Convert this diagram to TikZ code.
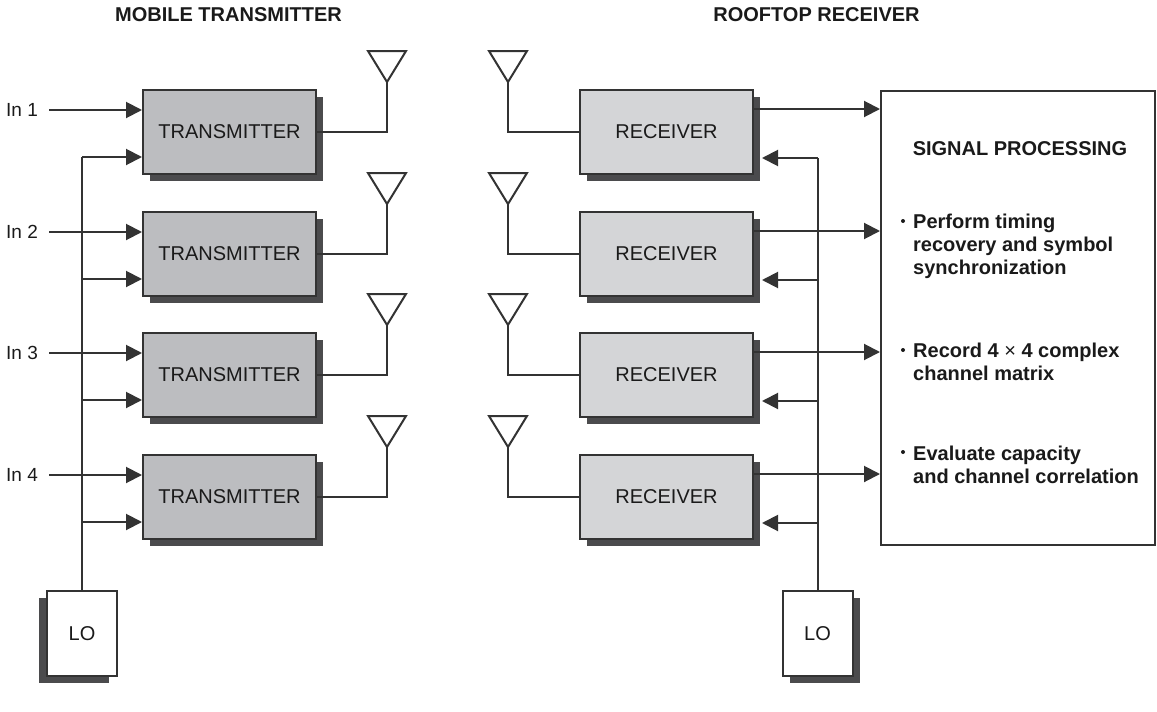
\documentclass[tikz,border=0pt]{standalone}
\usepackage{fontspec}
\setmainfont{Liberation Sans}
\usetikzlibrary{arrows.meta,shadows,calc}

\definecolor{txfill}{HTML}{BCBDC0}
\definecolor{rxfill}{HTML}{D4D5D7}
\definecolor{shade}{HTML}{4B4B4D}
\definecolor{wire}{HTML}{333333}
\definecolor{ink}{HTML}{1A1A1A}

\begin{document}
\begin{tikzpicture}[x=1pt,y=-1pt,
  font=\fontsize{20}{23}\selectfont, text=ink,
  wire/.style={draw=wire,line width=2pt},
  arr/.style={wire,-{Triangle[length=16pt,width=16pt]}},
  block/.style={draw=wire,line width=2pt,inner sep=0pt},
  shadowright/.style={drop shadow={shadow xshift=7pt,shadow yshift=-7pt,fill=shade,opacity=1}},
  shadowleft/.style={drop shadow={shadow xshift=-8pt,shadow yshift=-7pt,fill=shade,opacity=1}},
  txbox/.style={block,fill=txfill,minimum width=173pt,minimum height=84pt,shadowright},
  rxbox/.style={block,fill=rxfill,minimum width=173pt,minimum height=84pt,shadowright},
  lobox/.style={block,fill=white,minimum width=70pt,minimum height=85pt},
  head/.style={font=\fontsize{20}{23}\selectfont\bfseries,anchor=base},
  item/.style={font=\fontsize{20}{23}\selectfont\bfseries,anchor=base west,inner sep=0pt},
  antenna/.style={wire,line join=miter}
]
\fill[white] (0,0) rectangle (1157,712);
\useasboundingbox (0,0) rectangle (1157,712);

% column headings
\node[head] (hmt) at (228.5,21) {MOBILE TRANSMITTER};
\node[head] (hrr) at (816.5,21) {ROOFTOP RECEIVER};

% signal processing block
\node[block,minimum width=274pt,minimum height=454pt] (sp) at (1018,318) {};
\node[head] (sptitle) at (1020,155) {SIGNAL PROCESSING};
\foreach \n/\yb/\txt in {a/228/Perform timing, b/251/recovery and symbol,
    c/274/synchronization, d/357/{Record 4 {\mdseries ×} 4 complex},
    e/380/channel matrix, f/460/Evaluate capacity, g/483/and channel correlation}{
  \node[item] (sp\n) at (913,\yb) {\txt};
}
\foreach \yb in {221,350,452}{
  \fill[ink] (903,\yb) circle (2pt);
}

% local oscillators
\node[lobox,shadowleft] (lot) at (82,633.5) {LO};
\node[lobox,shadowright] (lor) at (817.5,633.5) {LO};

% transmitter and receiver chains
\foreach \i/\cy in {1/132,2/254,3/375,4/497}{
  \node[txbox] (t\i) at (229.5,\cy) {TRANSMITTER};
  \node[rxbox] (r\i) at (666.5,\cy) {RECEIVER};
  \coordinate (tin\i) at ([yshift=22pt]t\i.west);
  \coordinate (tlo\i) at ([yshift=-25pt]t\i.west);
  \coordinate (rout\i) at ([yshift=23pt]r\i.east);
  \coordinate (rlo\i) at ([xshift=8pt,yshift=-26pt]r\i.east);
  \coordinate (ta\i) at (387,\cy-50);
  \coordinate (ra\i) at (508,\cy-50);
}

% LO distribution trunks
\draw[wire] (lot.north) -- (lot.north |- tlo1);
\draw[wire] (lor.north) -- (lor.north |- rlo1);

\foreach \i/\cy in {1/132,2/254,3/375,4/497}{
  % inputs
  \node[anchor=west,inner sep=0pt,font=\fontsize{19}{23}\selectfont] (in\i) at (6,\cy-22) {In \i};
  \draw[arr] ([xshift=11pt]in\i.east) -- (tin\i);
  % LO feeds
  \draw[arr] (lot.north |- tlo\i) -- (tlo\i);
  \draw[arr] (lor.north |- rlo\i) -- (rlo\i);
  % receiver outputs
  \draw[arr] (rout\i) -- (rout\i -| sp.west);
  % antennas
  \draw[wire] (t\i.east) -| (ta\i);
  \draw[antenna] (ta\i) -- ++(-19,-31) -- ++(38,0) -- cycle;
  \draw[wire] (r\i.west) -| (ra\i);
  \draw[antenna] (ra\i) -- ++(-19,-31) -- ++(38,0) -- cycle;
}
\end{tikzpicture}
\end{document}
